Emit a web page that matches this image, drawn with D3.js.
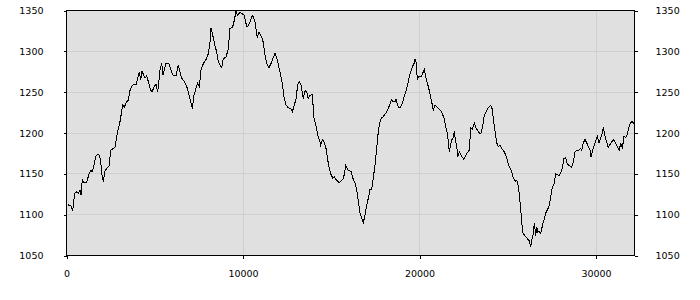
<!DOCTYPE html>
<html>
<head>
<meta charset="utf-8">
<script src="https://cdn.jsdelivr.net/npm/d3@7"></script>
<style>
  body { margin: 0; background: #fff; }
  svg text { font-family: "DejaVu Sans", sans-serif; font-size: 9.5px; fill: #000; }
</style>
</head>
<body>
<div id="chart"></div>
<script>
// sample positions (x) and readings (y)
var xs = [85, 255, 351, 465, 578, 669, 765, 822, 895, 992, 1144, 1292, 1388, 1445, 1518, 1654, 1745, 1858, 1938, 2028,
  2085, 2181, 2278, 2408, 2504, 2652, 2748, 2878, 3031, 3184, 3275, 3411, 3501, 3598, 3694, 3785, 3938, 4034, 4125, 4204,
  4278, 4351, 4448, 4544, 4635, 4770, 4861, 4974, 5071, 5167, 5297, 5394, 5467, 5637, 5807, 5921, 6051, 6204, 6334, 6431,
  6527, 6674, 6810, 6901, 6997, 7127, 7224, 7337, 7433, 7524, 7620, 7751, 7887, 8034, 8130, 8187, 8283, 8414, 8510, 8601,
  8697, 8793, 8884, 9037, 9167, 9263, 9416, 9507, 9603, 9700, 9830, 9960, 10074, 10210, 10300, 10397, 10527, 10583, 10680, 10810,
  10907, 11060, 11150, 11247, 11343, 11473, 11626, 11813, 11943, 12096, 12227, 12323, 12436, 12567, 12703, 12793, 12907, 13003, 13099, 13190,
  13286, 13416, 13513, 13609, 13700, 13796, 13926, 14023, 14119, 14232, 14323, 14402, 14493, 14589, 14703, 14799, 14890, 14986, 15082, 15173,
  15269, 15365, 15456, 15552, 15649, 15739, 15819, 15932, 16006, 16119, 16215, 16346, 16442, 16533, 16629, 16725, 16816, 16912, 17009, 17099,
  17195, 17292, 17382, 17479, 17575, 17666, 17762, 17858, 17949, 18045, 18142, 18232, 18329, 18425, 18516, 18612, 18669, 18765, 18839, 18935,
  19026, 19122, 19218, 19331, 19422, 19502, 19592, 19689, 19745, 19802, 19875, 19972, 20085, 20181, 20272, 20368, 20498, 20595, 20691, 20782,
  20878, 20974, 21121, 21258, 21388, 21501, 21575, 21632, 21688, 21768, 21841, 21915, 21972, 22051, 22108, 22164, 22255, 22351, 22425, 22504,
  22618, 22708, 22822, 22901, 22992, 23105, 23202, 23298, 23389, 23485, 23581, 23672, 23768, 23864, 23955, 24034, 24108, 24181, 24278, 24374,
  24465, 24561, 24657, 24748, 24844, 24941, 25031, 25128, 25224, 25315, 25411, 25507, 25598, 25694, 25751, 25847, 25938, 26034, 26130, 26221,
  26300, 26374, 26448, 26504, 26584, 26640, 26697, 26771, 26867, 26957, 27054, 27150, 27241, 27337, 27433, 27524, 27620, 27717, 27807, 27904,
  28000, 28091, 28187, 28283, 28374, 28487, 28623, 28714, 28810, 28907, 29037, 29133, 29190, 29281, 29377, 29473, 29564, 29660, 29717, 29813,
  29904, 30000, 30074, 30170, 30266, 30357, 30413, 30510, 30606, 30697, 30793, 30889, 30980, 31076, 31172, 31263, 31320, 31399, 31490, 31587,
  31683, 31774, 31870, 31966, 32057, 32180];

var ys = [1112, 1111, 1105, 1126, 1128, 1126, 1130, 1124, 1143, 1139, 1140, 1151, 1154, 1152, 1157, 1171, 1174, 1173, 1165, 1145,
  1142, 1153, 1157, 1159, 1179, 1181, 1183, 1200, 1214, 1234, 1232, 1238, 1240, 1252, 1257, 1259, 1259, 1267, 1275, 1265,
  1276, 1272, 1267, 1270, 1263, 1252, 1251, 1257, 1260, 1250, 1277, 1285, 1271, 1285, 1285, 1277, 1270, 1270, 1283, 1275,
  1267, 1263, 1257, 1250, 1242, 1230, 1246, 1255, 1261, 1257, 1277, 1285, 1289, 1297, 1311, 1328, 1320, 1307, 1299, 1287,
  1283, 1280, 1291, 1293, 1303, 1328, 1330, 1338, 1349, 1344, 1348, 1346, 1344, 1330, 1331, 1336, 1344, 1342, 1336, 1317,
  1324, 1317, 1311, 1295, 1285, 1280, 1287, 1298, 1289, 1275, 1261, 1244, 1234, 1231, 1230, 1226, 1234, 1242, 1259, 1263,
  1259, 1242, 1252, 1250, 1242, 1246, 1247, 1218, 1210, 1198, 1192, 1185, 1192, 1189, 1181, 1167, 1157, 1149, 1145, 1146,
  1143, 1141, 1139, 1141, 1143, 1149, 1160, 1155, 1154, 1153, 1145, 1139, 1131, 1116, 1102, 1096, 1090, 1100, 1112, 1120,
  1131, 1131, 1145, 1161, 1181, 1202, 1214, 1219, 1220, 1223, 1226, 1230, 1236, 1241, 1238, 1238, 1241, 1234, 1231, 1232,
  1236, 1244, 1250, 1259, 1269, 1275, 1281, 1285, 1290, 1287, 1266, 1269, 1269, 1273, 1278, 1267, 1257, 1248, 1238, 1228,
  1234, 1232, 1229, 1226, 1218, 1206, 1200, 1189, 1177, 1186, 1192, 1194, 1202, 1189, 1185, 1171, 1177, 1173, 1170, 1168,
  1172, 1176, 1179, 1206, 1205, 1212, 1206, 1203, 1200, 1200, 1208, 1222, 1226, 1230, 1232, 1234, 1230, 1218, 1202, 1188,
  1183, 1185, 1181, 1179, 1175, 1169, 1162, 1157, 1153, 1145, 1141, 1142, 1135, 1116, 1102, 1078, 1075, 1073, 1070, 1068,
  1061, 1070, 1076, 1090, 1074, 1085, 1079, 1080, 1077, 1086, 1094, 1102, 1106, 1110, 1122, 1133, 1137, 1150, 1149, 1148,
  1151, 1157, 1169, 1170, 1162, 1160, 1158, 1165, 1177, 1179, 1179, 1181, 1179, 1188, 1192, 1188, 1183, 1179, 1171, 1179,
  1185, 1192, 1196, 1188, 1194, 1200, 1207, 1196, 1189, 1182, 1186, 1189, 1192, 1189, 1185, 1181, 1179, 1188, 1181, 1196,
  1194, 1198, 1208, 1213, 1214, 1211];

var yTicks = [1050, 1100, 1150, 1200, 1250, 1300, 1350];
var xTicks = [0, 10000, 20000, 30000];

var svgW = 700, svgH = 300;
var margin = {top: 10.5, right: 65.5, bottom: 44.5, left: 66.5};
var chartW = svgW - margin.left - margin.right;
var chartH = svgH - margin.top - margin.bottom;

var svg = d3.select('#chart').append('svg')
    .attr('width', svgW)
    .attr('height', svgH);

var g = svg.append('g')
    .attr('transform', `translate(${margin.left}, ${margin.top})`);

var xScale = d3.scaleLinear().domain([0, d3.max(xs)]).range([0, chartW]);
var yScale = d3.scaleLinear().domain([1050, 1350]).range([chartH, 0]);

// plot background
g.append('rect')
    .attr('width', chartW)
    .attr('height', chartH)
    .attr('fill', '#e0e0e0');

// grid
g.selectAll('.hgrid').data(yTicks).enter().append('line')
    .attr('x1', 0).attr('x2', chartW)
    .attr('y1', d => yScale(d)).attr('y2', d => yScale(d))
    .attr('stroke', '#d0d0d0')
    .attr('shape-rendering', 'crispEdges');
g.selectAll('.vgrid').data(xTicks).enter().append('line')
    .attr('y1', 0).attr('y2', chartH)
    .attr('x1', d => xScale(d)).attr('x2', d => xScale(d))
    .attr('stroke', '#d0d0d0')
    .attr('shape-rendering', 'crispEdges');

// the series
var line = d3.line()
    .x((d, i) => xScale(xs[i]))
    .y(d => yScale(d));
g.append('path')
    .datum(ys)
    .attr('d', line)
    .attr('fill', 'none')
    .attr('stroke', '#000')
    .attr('stroke-width', 1)
    .attr('shape-rendering', 'crispEdges');

// axes
function styleAxis(sel) {
    sel.select('.domain').remove();
    sel.selectAll('line').attr('stroke', '#000').attr('shape-rendering', 'crispEdges');
    sel.selectAll('text').attr('font-family', null).attr('font-size', null).attr('fill', '#000');
}

g.append('g')
    .attr('transform', `translate(0, ${chartH})`)
    .call(d3.axisBottom(xScale).tickValues(xTicks).tickSize(3).tickPadding(12).tickFormat(d3.format('d')))
    .call(styleAxis);

g.append('g')
    .call(d3.axisLeft(yScale).tickValues(yTicks).tickSize(3).tickPadding(20).tickFormat(d3.format('d')))
    .call(styleAxis);

g.append('g')
    .attr('transform', `translate(${chartW}, 0)`)
    .call(d3.axisRight(yScale).tickValues(yTicks).tickSize(3).tickPadding(18).tickFormat(d3.format('d')))
    .call(styleAxis);

// frame
g.append('rect')
    .attr('width', chartW)
    .attr('height', chartH)
    .attr('fill', 'none')
    .attr('stroke', '#000')
    .attr('shape-rendering', 'crispEdges');
</script>
</body>
</html>
